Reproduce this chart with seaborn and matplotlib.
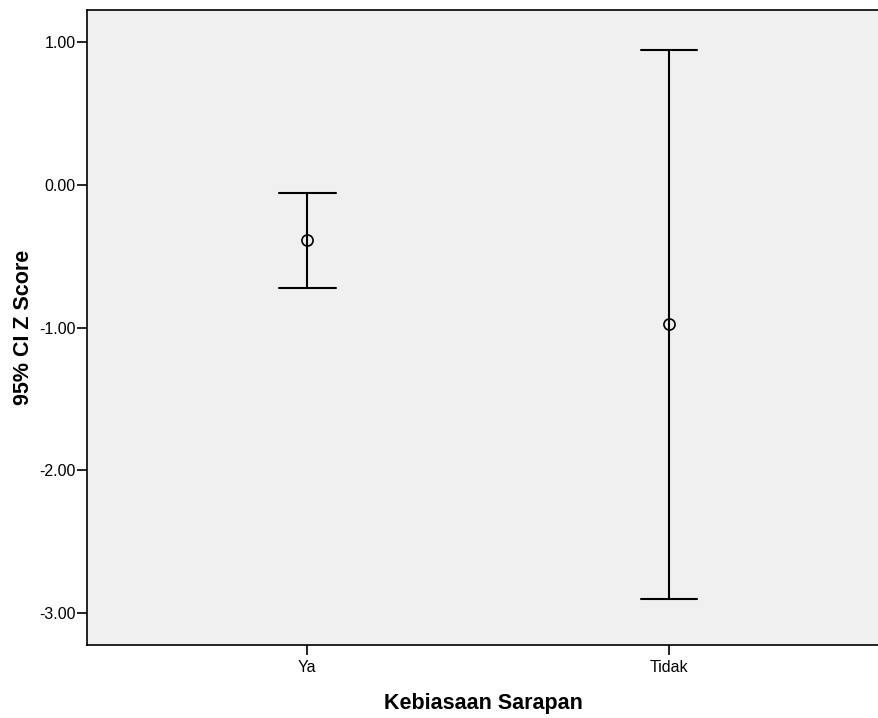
import pandas as pd
import seaborn as sns
import matplotlib.pyplot as plt

categories = ["Ya", "Tidak"]
ci_lower = [-0.72, -2.90]
means = [-0.39, -0.975]
ci_upper = [-0.06, 0.94]

# three rows per group: median -> mean, full range -> CI
rows = []
for cat, lo, m, hi in zip(categories, ci_lower, means, ci_upper):
    for v in (lo, m, hi):
        rows.append({"group": cat, "z": v})
df = pd.DataFrame(rows)

sns.set_style("white")
plt.rcParams['font.family'] = ['Liberation Sans', 'DejaVu Sans']

fig = plt.figure(figsize=(8.79, 7.18), dpi=100)
ax = fig.add_axes([0.099, 0.1017, 0.901, 0.8843])
ax.set_facecolor('#f0f0f0')

sns.pointplot(data=df, x="group", y="z", order=categories,
              estimator="median", errorbar=("pi", 100),
              linestyle="none", color="black", capsize=0.157,
              marker="o", markersize=8, markerfacecolor="none",
              markeredgewidth=1.2, err_kws={"linewidth": 1.5}, ax=ax)

ax.set_xlim(-0.608, 1.58)
ax.set_ylim(-3.222, 1.222)
ax.set_yticks([1, 0, -1, -2, -3])
ax.set_yticklabels(["1.00", "0.00", "-1.00", "-2.00", "-3.00"])

for s in ["left", "top", "bottom"]:
    ax.spines[s].set_visible(True)
    ax.spines[s].set_color("black")
    ax.spines[s].set_linewidth(1.2)
ax.spines["right"].set_visible(False)

ax.tick_params(axis="both", which="both", direction="out", length=7,
               width=1.2, colors="black", labelsize=11.5,
               left=True, bottom=True)
ax.tick_params(axis="y", pad=1)

ax.set_xlabel("Kebiasaan Sarapan", fontsize=15.5, fontweight="bold",
              labelpad=13, color="black")
ax.set_ylabel("95% CI Z Score", fontsize=15.5, fontweight="bold",
              labelpad=4, color="black")

plt.savefig("out.png", dpi=100)
